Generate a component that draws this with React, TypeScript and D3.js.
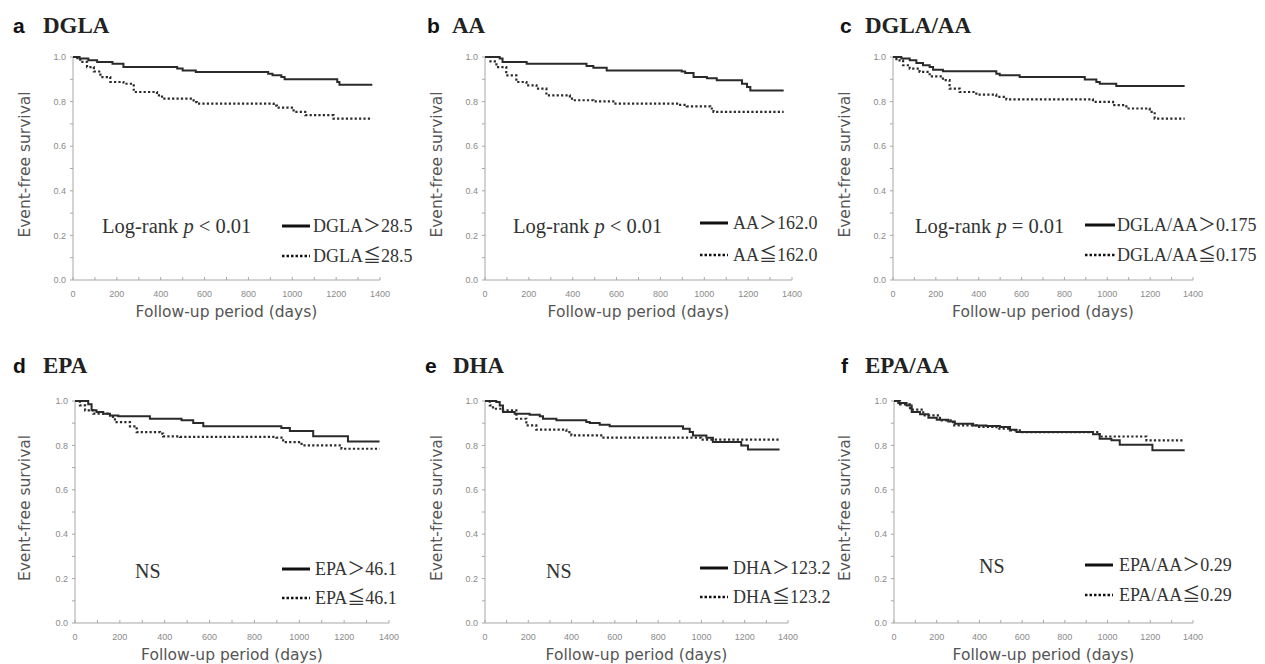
import * as d3 from 'd3';

type Pt = [number, number];

const X_TICKS = [0, 200, 400, 600, 800, 1000, 1200, 1400];
const X_MINOR = d3.range(0, 1401, 100);
const Y_TICKS = [0, 0.2, 0.4, 0.6, 0.8, 1.0];
const Y_MINOR = d3.range(0, 1.01, 0.1);

const PANEL_LETTERS = ['a', 'b', 'c', 'd', 'e', 'f'];
const PANEL_NAMES = ['DGLA', 'AA', 'DGLA/AA', 'EPA', 'DHA', 'EPA/AA'];
const HIGH_LABELS = ['DGLA＞28.5', 'AA＞162.0', 'DGLA/AA＞0.175', 'EPA＞46.1', 'DHA＞123.2', 'EPA/AA＞0.29'];
const LOW_LABELS = ['DGLA≦28.5', 'AA≦162.0', 'DGLA/AA≦0.175', 'EPA≦46.1', 'DHA≦123.2', 'EPA/AA≦0.29'];
const P_TEXT = ['< 0.01', '< 0.01', '= 0.01', null, null, null];

// survival curves, [day, event-free survival]
const dglaHigh: Pt[] = [[0, 1], [30, 0.993], [70, 0.985], [110, 0.978], [180, 0.97], [230, 0.955], [475, 0.948], [500, 0.94], [560, 0.933], [890, 0.925], [910, 0.918], [950, 0.91], [965, 0.9], [1205, 0.888], [1215, 0.876], [1365, 0.876]];
const dglaLow: Pt[] = [[0, 1], [20, 0.99], [33, 0.978], [64, 0.955], [95, 0.935], [125, 0.91], [170, 0.888], [230, 0.88], [277, 0.843], [383, 0.828], [406, 0.813], [550, 0.798], [565, 0.791], [915, 0.782], [930, 0.773], [1006, 0.754], [1059, 0.739], [1188, 0.724], [1365, 0.724]];
const aaHigh: Pt[] = [[0, 1], [67, 0.993], [80, 0.978], [190, 0.97], [463, 0.96], [494, 0.952], [555, 0.94], [897, 0.935], [913, 0.928], [951, 0.91], [1012, 0.905], [1057, 0.896], [1172, 0.88], [1195, 0.865], [1210, 0.85], [1362, 0.85]];
const aaLow: Pt[] = [[0, 1], [25, 0.98], [52, 0.955], [97, 0.918], [143, 0.888], [189, 0.873], [235, 0.858], [280, 0.828], [387, 0.813], [402, 0.806], [494, 0.801], [585, 0.791], [890, 0.785], [920, 0.779], [1027, 0.769], [1042, 0.754], [1362, 0.754]];
const ratioHigh: Pt[] = [[0, 1], [39, 0.993], [78, 0.985], [109, 0.973], [140, 0.963], [171, 0.955], [187, 0.943], [233, 0.936], [482, 0.925], [498, 0.918], [591, 0.91], [895, 0.899], [949, 0.888], [965, 0.88], [1042, 0.87], [1361, 0.87]];
const ratioLow: Pt[] = [[0, 1], [16, 0.985], [47, 0.963], [78, 0.948], [124, 0.933], [171, 0.913], [233, 0.896], [264, 0.858], [311, 0.843], [389, 0.831], [482, 0.821], [529, 0.81], [902, 0.81], [933, 0.799], [1027, 0.784], [1089, 0.769], [1198, 0.754], [1221, 0.724], [1361, 0.724]];
const epaHigh: Pt[] = [[0, 1], [59, 0.985], [74, 0.958], [96, 0.95], [126, 0.943], [156, 0.935], [193, 0.931], [334, 0.92], [475, 0.913], [527, 0.901], [572, 0.886], [906, 0.886], [920, 0.878], [958, 0.865], [1062, 0.841], [1217, 0.818], [1358, 0.818]];
const epaLow: Pt[] = [[0, 1], [22, 0.98], [45, 0.958], [82, 0.943], [156, 0.928], [178, 0.905], [245, 0.886], [275, 0.86], [379, 0.853], [393, 0.841], [468, 0.838], [898, 0.835], [928, 0.815], [1010, 0.8], [1188, 0.785], [1358, 0.785]];
const dhaHigh: Pt[] = [[0, 1], [52, 0.995], [68, 0.98], [83, 0.95], [137, 0.943], [206, 0.938], [253, 0.931], [268, 0.92], [330, 0.913], [468, 0.905], [484, 0.901], [530, 0.893], [576, 0.886], [915, 0.875], [946, 0.86], [961, 0.845], [1023, 0.835], [1053, 0.815], [1184, 0.8], [1215, 0.781], [1361, 0.781]];
const dhaLow: Pt[] = [[0, 1], [22, 0.98], [37, 0.965], [83, 0.958], [145, 0.92], [191, 0.89], [237, 0.871], [376, 0.86], [399, 0.845], [537, 0.835], [999, 0.826], [1361, 0.826]];
const epaAaHigh: Pt[] = [[0, 1], [20, 0.991], [59, 0.98], [83, 0.95], [122, 0.94], [161, 0.925], [200, 0.916], [254, 0.908], [285, 0.898], [371, 0.89], [433, 0.887], [496, 0.883], [543, 0.871], [574, 0.86], [932, 0.85], [963, 0.83], [1018, 0.823], [1057, 0.803], [1210, 0.778], [1361, 0.778]];
const epaAaLow: Pt[] = [[0, 1], [28, 0.985], [75, 0.961], [137, 0.935], [215, 0.913], [277, 0.89], [387, 0.883], [480, 0.875], [543, 0.868], [589, 0.86], [963, 0.84], [1182, 0.823], [1361, 0.823]];

const HIGH_SERIES = [dglaHigh, aaHigh, ratioHigh, epaHigh, dhaHigh, epaAaHigh];
const LOW_SERIES = [dglaLow, aaLow, ratioLow, epaLow, dhaLow, epaAaLow];

// panel frames: plot left/right, top (1.0) / bottom (0.0)
const FRAMES = [
  { x0: 73, x1: 380, top: 57, bot: 280, titleX: 13, nameX: 43, titleY: 33, yLabX: 25 },
  { x0: 485, x1: 792, top: 57, bot: 280, titleX: 427, nameX: 452, titleY: 33, yLabX: 437 },
  { x0: 893, x1: 1193, top: 57, bot: 280, titleX: 840, nameX: 865, titleY: 33, yLabX: 845 },
  { x0: 75, x1: 389, top: 401, bot: 623, titleX: 13, nameX: 43, titleY: 373, yLabX: 25 },
  { x0: 485, x1: 788, top: 401, bot: 623, titleX: 425, nameX: 453, titleY: 373, yLabX: 437 },
  { x0: 894, x1: 1193, top: 401, bot: 623, titleX: 841, nameX: 865, titleY: 373, yLabX: 845 },
];
const LEGENDS = [
  { lx: 282, lw: 28, tx: 313, y1: 226, y2: 256, ax: 102, ay: 233 },
  { lx: 700, lw: 28, tx: 733, y1: 223, y2: 255, ax: 513, ay: 233 },
  { lx: 1085, lw: 30, tx: 1117, y1: 225, y2: 255, ax: 915, ay: 233 },
  { lx: 282, lw: 28, tx: 315, y1: 569, y2: 598, ax: 135, ay: 578 },
  { lx: 700, lw: 28, tx: 733, y1: 568, y2: 597, ax: 546, ay: 578 },
  { lx: 1085, lw: 28, tx: 1119, y1: 565, y2: 595, ax: 979, ay: 573 },
];

const AXIS = '#a8a8a8';
const TICK_TXT = '#8a8a8a';
const INK = '#2a2a2a';
const SERIF = "'Liberation Serif', 'Times New Roman', 'Noto Sans CJK JP', serif";
const SANS = "'DejaVu Sans', Verdana, sans-serif";

function Panel({ i }: { i: number }) {
  const f = FRAMES[i];
  const lg = LEGENDS[i];
  const x = d3.scaleLinear().domain([0, 1400]).range([f.x0, f.x1]);
  const y = d3.scaleLinear().domain([0, 1]).range([f.bot, f.top]);
  const line = d3.line<Pt>().x(d => x(d[0])).y(d => y(d[1])).curve(d3.curveStepAfter);
  const p = P_TEXT[i];

  return (
    <g>
      <text x={f.titleX} y={f.titleY} fontFamily="'Liberation Sans', Arial, sans-serif" fontWeight="bold" fontSize={21} fill="#111">{PANEL_LETTERS[i]}</text>
      <text x={f.nameX} y={f.titleY} fontFamily={SERIF} fontWeight="bold" fontSize={23} fill="#222">{PANEL_NAMES[i]}</text>

      {/* axes */}
      <line x1={f.x0} x2={f.x0} y1={f.top} y2={f.bot} stroke={AXIS} />
      <line x1={f.x0} x2={f.x1} y1={f.bot} y2={f.bot} stroke={AXIS} />
      {X_MINOR.map(t => (
        <line key={'xm' + t} x1={x(t)} x2={x(t)} y1={f.bot} y2={f.bot - 3} stroke={AXIS} />
      ))}
      {Y_MINOR.map(t => (
        <line key={'ym' + t} x1={f.x0} x2={f.x0 - 3} y1={y(t)} y2={y(t)} stroke={AXIS} />
      ))}
      {X_TICKS.map(t => (
        <text key={'xt' + t} x={x(t)} y={f.bot + 14} dy="0.35em" textAnchor="middle" fontFamily="'Liberation Sans', sans-serif" fontSize={9} fill={TICK_TXT}>{t}</text>
      ))}
      {Y_TICKS.map(t => (
        <text key={'yt' + t} x={f.x0 - 7} y={y(t)} dy="0.35em" textAnchor="end" fontFamily="'Liberation Sans', sans-serif" fontSize={9} fill={TICK_TXT}>{t.toFixed(1)}</text>
      ))}
      <text transform={`translate(${f.yLabX},${(f.top + f.bot) / 2 - 4}) rotate(-90)`} dy="0.35em" textAnchor="middle" fontFamily={SANS} fontSize={15.5} fill="#555">Event-free survival</text>
      <text x={(f.x0 + f.x1) / 2} y={f.bot + 37} textAnchor="middle" fontFamily={SANS} fontSize={15.5} fill="#555">Follow-up period (days)</text>

      {/* curves */}
      <path d={line(LOW_SERIES[i]) ?? ''} fill="none" stroke={INK} strokeWidth={2.2} strokeDasharray="2.2,2.2" />
      <path d={line(HIGH_SERIES[i]) ?? ''} fill="none" stroke={INK} strokeWidth={2} />

      {/* annotation */}
      {p ? (
        <text x={lg.ax} y={lg.ay} fontFamily={SERIF} fontSize={20.5} fill="#333">
          Log-rank <tspan fontStyle="italic">p</tspan> {p}
        </text>
      ) : (
        <text x={lg.ax} y={lg.ay} fontFamily={SERIF} fontSize={20} fill="#333">NS</text>
      )}

      {/* legend */}
      <line x1={lg.lx} x2={lg.lx + lg.lw} y1={lg.y1} y2={lg.y1} stroke="#111" strokeWidth={3} />
      <line x1={lg.lx} x2={lg.lx + lg.lw} y1={lg.y2} y2={lg.y2} stroke="#111" strokeWidth={2.5} strokeDasharray="2.5,2" />
      <text x={lg.tx} y={lg.y1 + 6} fontFamily={SERIF} fontSize={18} fill="#333">{HIGH_LABELS[i]}</text>
      <text x={lg.tx} y={lg.y2 + 6} fontFamily={SERIF} fontSize={18} fill="#333">{LOW_LABELS[i]}</text>
    </g>
  );
}

export default function App() {
  return (
    <svg width={1265} height={664} style={{ position: 'absolute', left: 0, top: 0, background: '#fff' }}>
      {PANEL_LETTERS.map((_, i) => <Panel key={i} i={i} />)}
    </svg>
  );
}
